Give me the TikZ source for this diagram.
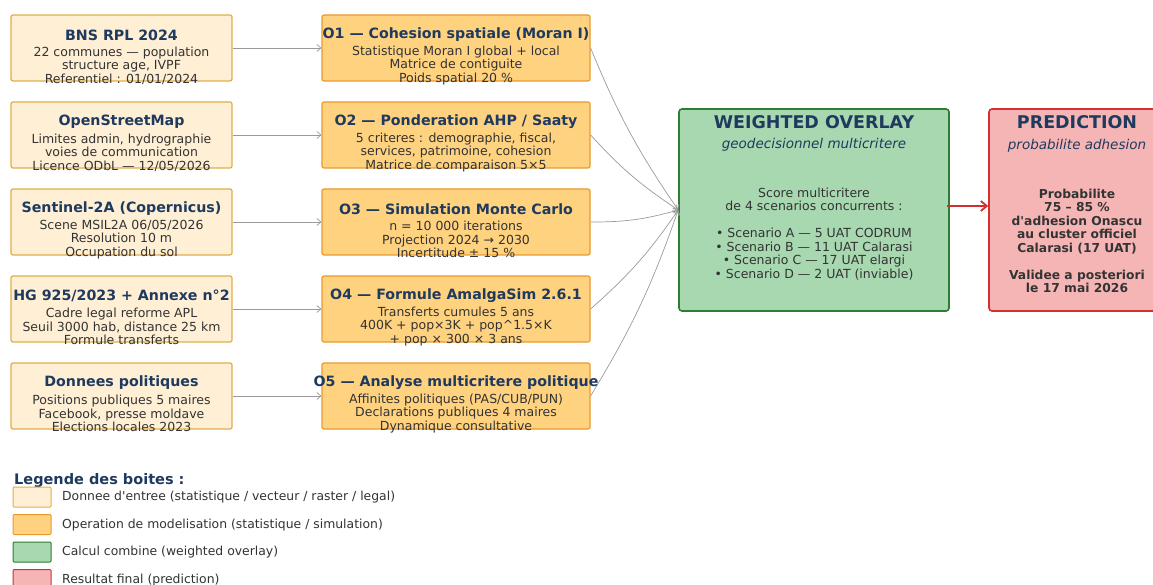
\documentclass[tikz,border=0pt]{standalone}
\usepackage{fontspec}
\setmainfont{DejaVu Sans}
\usepackage{xcolor}
\usetikzlibrary{arrows.meta, positioning, calc}

\definecolor{inFill}{HTML}{FFEFD5}
\definecolor{inLine}{HTML}{DFAE4A}
\definecolor{opFill}{HTML}{FFD280}
\definecolor{opLine}{HTML}{E89A2C}
\definecolor{ovFill}{HTML}{A8D8B0}
\definecolor{ovLine}{HTML}{2E7D32}
\definecolor{prFill}{HTML}{F5B5B5}
\definecolor{prLine}{HTML}{D32F2F}
\definecolor{navy}{HTML}{1F3A5F}
\definecolor{ink}{HTML}{333333}
\definecolor{wire}{HTML}{9A9A9A}

\begin{document}
\begin{tikzpicture}[
    x=1pt, y=1pt,
    every node/.style={font=\fontsize{12.5}{13.5}\selectfont, text=ink},
    inbox/.style={draw=inLine, fill=inFill, line width=1.2pt, rounded corners=2pt, minimum width=221pt, minimum height=66pt, inner sep=0pt},
    opbox/.style={draw=opLine, fill=opFill, line width=1.2pt, rounded corners=2pt, minimum width=268pt, minimum height=66pt, inner sep=0pt},
    bigbox/.style={line width=1.6pt, rounded corners=3pt, minimum height=202pt, inner sep=0pt},
    hd/.style={font=\fontsize{14.2}{16}\selectfont\bfseries, text=navy, inner sep=0pt},
    txt/.style={align=center, inner sep=0pt},
    arrow/.style={-{Straight Barb[length=4pt, width=7pt]}, draw=wire, line width=0.7pt},
    redarrow/.style={-{Straight Barb[length=6pt, width=10pt]}, draw=prLine, line width=1.8pt},
    key/.style={draw=#1Line, fill=#1Fill, line width=1pt, rounded corners=1pt, minimum width=38pt, minimum height=20pt, inner sep=0pt},
    keytxt/.style={anchor=west, font=\fontsize{12.4}{14}\selectfont, inner sep=0pt}
]
\useasboundingbox (0,0) rectangle (1153,-585);

% --- Input data ---
\node[inbox] (in_bns) at (121.5,-48) {};
\node[hd] (t_bns) at ($(in_bns.center)+(0,13)$) {BNS RPL 2024};
\node[txt] (b_bns) at ($(in_bns.center)+(0,-17.5)$) {22 communes — population\\structure age, IVPF\\Referentiel : 01/01/2024};

\node[inbox] (in_osm) at (121.5,-135) {};
\node[hd] (t_osm) at ($(in_osm.center)+(0,13)$) {OpenStreetMap};
\node[txt] (b_osm) at ($(in_osm.center)+(0,-17.5)$) {Limites admin, hydrographie\\voies de communication\\Licence ODbL — 12/05/2026};

\node[inbox] (in_sen) at (121.5,-222) {};
\node[hd] (t_sen) at ($(in_sen.center)+(0,13)$) {Sentinel-2A (Copernicus)};
\node[txt] (b_sen) at ($(in_sen.center)+(0,-17.5)$) {Scene MSIL2A 06/05/2026\\Resolution 10 m\\Occupation du sol};

\node[inbox] (in_hg) at (121.5,-309) {};
\node[hd] (t_hg) at ($(in_hg.center)+(0,13)$) {HG 925/2023 + Annexe n°2};
\node[txt] (b_hg) at ($(in_hg.center)+(0,-17.5)$) {Cadre legal reforme APL\\Seuil 3000 hab, distance 25 km\\Formule transferts};

\node[inbox] (in_pol) at (121.5,-396) {};
\node[hd] (t_pol) at ($(in_pol.center)+(0,13)$) {Donnees politiques};
\node[txt] (b_pol) at ($(in_pol.center)+(0,-17.5)$) {Positions publiques 5 maires\\Facebook, presse moldave\\Elections locales 2023};

% --- Modelling operations ---
\node[opbox] (op_moran) at (456,-48) {};
\node[hd] (t_moran) at ($(op_moran.center)+(0,13)$) {O1 — Cohesion spatiale (Moran I)};
\node[txt] (b_moran) at ($(op_moran.center)+(0,-17.5)$) {Statistique Moran I global + local\\Matrice de contiguite\\Poids spatial 20 \%};

\node[opbox] (op_ahp) at (456,-135) {};
\node[hd] (t_ahp) at ($(op_ahp.center)+(0,13)$) {O2 — Ponderation AHP / Saaty};
\node[txt] (b_ahp) at ($(op_ahp.center)+(0,-17.5)$) {5 criteres : demographie, fiscal,\\services, patrimoine, cohesion\\Matrice de comparaison 5×5};

\node[opbox] (op_mc) at (456,-222) {};
\node[hd] (t_mc) at ($(op_mc.center)+(0,13)$) {O3 — Simulation Monte Carlo};
\node[txt] (b_mc) at ($(op_mc.center)+(0,-17.5)$) {n = 10 000 iterations\\Projection 2024 → 2030\\Incertitude ± 15 \%};

\node[opbox] (op_amg) at (456,-309) {};
\node[hd] (t_amg) at ($(op_amg.center)+(0,13)$) {O4 — Formule AmalgaSim 2.6.1};
\node[txt] (b_amg) at ($(op_amg.center)+(0,-17.5)$) {Transferts cumules 5 ans\\400K + pop×3K + pop\textasciicircum 1.5×K\\+ pop × 300 × 3 ans};

\node[opbox] (op_pol) at (456,-396) {};
\node[hd] (t_opol) at ($(op_pol.center)+(0,13)$) {O5 — Analyse multicritere politique};
\node[txt] (b_opol) at ($(op_pol.center)+(0,-17.5)$) {Affinites politiques (PAS/CUB/PUN)\\Declarations publiques 4 maires\\Dynamique consultative};

% --- Weighted overlay ---
\node[bigbox, draw=ovLine, fill=ovFill, minimum width=270pt] (overlay) at (814,-210) {};
\node[hd, font=\fontsize{17.5}{20}\selectfont\bfseries] (t_ov) at ($(overlay.center)+(0,87.5)$) {WEIGHTED OVERLAY};
\node[txt, text=navy, font=\fontsize{13.5}{15}\selectfont\itshape] (s_ov) at ($(overlay.center)+(0,65)$) {geodecisionnel multicritere};
\node[txt] (b_ov) at ($(overlay.center)+(0,-24)$) {Score multicritere\\de 4 scenarios concurrents :\\[13.5pt]• Scenario A — 5 UAT CODRUM\\• Scenario B — 11 UAT Calarasi\\• Scenario C — 17 UAT elargi\\• Scenario D — 2 UAT (inviable)};

% --- Prediction ---
\node[bigbox, draw=prLine, fill=prFill, minimum width=176pt] (pred) at (1077,-210) {};
\node[hd, font=\fontsize{17.5}{20}\selectfont\bfseries] (t_pr) at ($(pred.center)+(0,87.5)$) {PREDICTION};
\node[txt, text=navy, font=\fontsize{13.5}{15}\selectfont\itshape] (s_pr) at ($(pred.center)+(0,64)$) {probabilite adhesion};
\node[txt, font=\fontsize{12.3}{13.5}\selectfont\bfseries] (b_pr) at ($(pred.center)+(0,-31)$) {Probabilite\\75 – 85 \%\\d\textquotesingle adhesion Onascu\\au cluster officiel\\Calarasi (17 UAT)\\[13.5pt]Validee a posteriori\\le 17 mai 2026};

% --- Connectors ---
\draw[arrow] (in_bns) -- (op_moran);
\draw[arrow] (in_osm) -- (op_ahp);
\draw[arrow] (in_sen) -- (op_mc);
\draw[arrow] (in_hg) -- (op_amg);
\draw[arrow] (in_pol) -- (op_pol);

\draw[arrow] (op_moran.east) to[bend right=6] (overlay.west);
\draw[arrow] (op_ahp.east) to[bend right=7] (overlay.west);
\draw[arrow] (op_mc.east) to[bend right=8] (overlay.west);
\draw[arrow] (op_amg.east) to[bend right=7] (overlay.west);
\draw[arrow] (op_pol.east) to[bend right=6] (overlay.west);

\draw[redarrow] ($(overlay.east)+(-3,4)$) coordinate (ov_out) -- (ov_out -| pred.west);

% --- Legend ---
\node[hd, font=\fontsize{14.5}{16}\selectfont\bfseries, anchor=west] (leg_title) at (14,-480.5) {Legende des boites :};
\node[key=in] (k_in) at (32,-497) {};
\node[keytxt] (l_in) at (62,-497.5) {Donnee d\textquotesingle entree (statistique / vecteur / raster / legal)};
\node[key=op] (k_op) at (32,-524.5) {};
\node[keytxt] (l_op) at (62,-525) {Operation de modelisation (statistique / simulation)};
\node[key=ov] (k_ov) at (32,-552) {};
\node[keytxt] (l_ov) at (62,-552.5) {Calcul combine (weighted overlay)};
\node[key=pr] (k_pr) at (32,-579.5) {};
\node[keytxt] (l_pr) at (62,-580) {Resultat final (prediction)};

\end{tikzpicture}
\end{document}
